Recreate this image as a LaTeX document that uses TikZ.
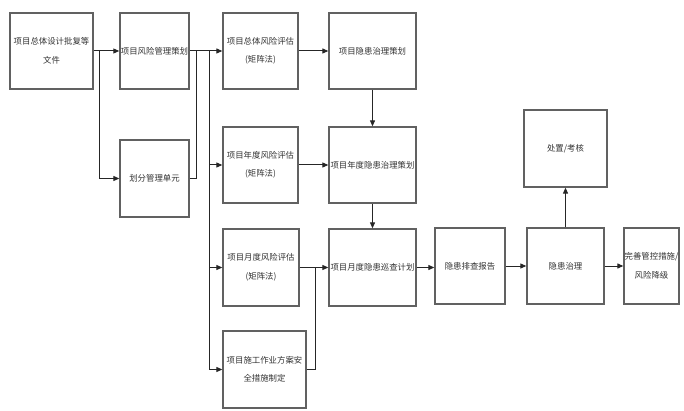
\documentclass[tikz,border=0pt]{standalone}
\usepackage{fontspec}
\setmainfont{Noto Sans CJK SC}
\usetikzlibrary{arrows.meta,calc}
\begin{document}
\begin{tikzpicture}[x=1pt,y=-1pt,
  box/.style={draw=black!62,line width=1.3pt,fill=white,inner sep=1pt,align=center,
    font=\fontsize{8.4pt}{18.5pt}\selectfont,text=black!80},
  arr/.style={line width=1pt,draw=black!85,-{Triangle[length=6pt,width=5pt]}},
  ln/.style={line width=1pt,draw=black!85}]
\useasboundingbox (0,0) rectangle (684,411);
\fill[white] (0,0) rectangle (684,411);
\node[box,minimum width=83pt,minimum height=76pt] (A) at (51.5,51) {项目总体设计批复等\\文件};
\node[box,minimum width=69pt,minimum height=76pt] (B) at (154.5,51) {项目风险管理策划};
\node[box,minimum width=69pt,minimum height=77pt] (C) at (154.5,178.5) {划分管理单元};
\node[box,minimum width=75pt,minimum height=76pt] (D) at (260.5,51) {项目总体风险评估\\(矩阵法)};
\node[box,minimum width=75pt,minimum height=76pt] (E) at (260.5,165) {项目年度风险评估\\(矩阵法)};
\node[box,minimum width=87pt,minimum height=76pt] (F) at (372.5,51) {项目隐患治理策划};
\node[box,minimum width=87pt,minimum height=76pt] (G) at (372.5,165) {项目年度隐患治理策划};
\node[box,minimum width=76pt,minimum height=77pt] (H) at (261,267.5) {项目月度风险评估\\(矩阵法)};
\node[box,minimum width=83pt,minimum height=77pt] (I) at (264.5,369.5) {项目施工作业方案安\\全措施制定};
\node[box,minimum width=87pt,minimum height=77pt] (J) at (372.5,267.5) {项目月度隐患巡查计划};
\node[box,minimum width=70pt,minimum height=76pt] (K) at (470,266) {隐患排查报告};
\node[box,minimum width=77pt,minimum height=76pt] (L) at (565.5,266) {隐患治理};
\node[box,minimum width=83pt,minimum height=77pt] (M) at (565.5,148.5) {处置/考核};
\node[box,minimum width=55pt,minimum height=76pt,inner sep=0pt] (N) at (651.5,266) {完善管控措施/\\风险降级};
\coordinate (s1) at (99,51);
\coordinate (c1) at (196,51);
\coordinate (t) at (209,51);
\coordinate (j1) at (315,267.5);
\draw[arr] (A.east) -- (B.west);
\draw[arr] (s1) |- (C.west);
\draw[ln] (C.east) -| (c1);
\draw[arr] (B.east) -- (D.west);
\draw[arr] (t) |- (E.west);
\draw[arr] (t) |- (H.west);
\draw[arr] (t) |- (I.west);
\draw[arr] (D.east) -- (F.west);
\draw[arr] (E.east) -- (G.west);
\draw[arr] (F.south) -- (G.north);
\draw[arr] (G.south) -- (J.north);
\draw[arr] (H.east) -- (J.west);
\draw[ln] (I.east) -| (j1);
\draw[arr] (J.east) -- (J.east -| K.west);
\draw[arr] (K.east) -- (L.west);
\draw[arr] (L.east) -- (N.west);
\draw[arr] (L.north) -- (M.south);
\end{tikzpicture}
\end{document}
